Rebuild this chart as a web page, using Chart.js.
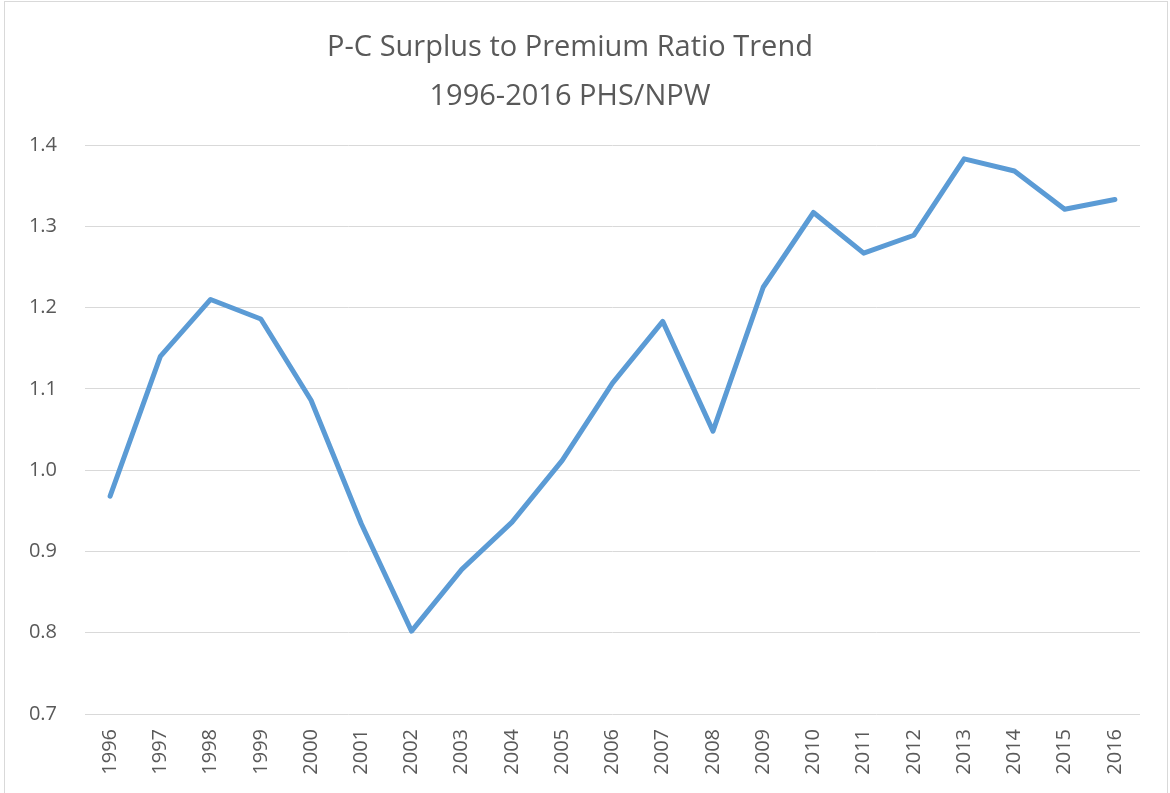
<!DOCTYPE html>
<html>
<head>
<meta charset="utf-8">
<script src="https://cdn.jsdelivr.net/npm/chart.js@4/dist/chart.umd.min.js"></script>
<style>
  html, body { margin: 0; padding: 0; background: #fff; }
  #wrap { position: relative; width: 1170px; height: 793px; }
  canvas { display: block; }
</style>
</head>
<body>
<div id="wrap"><canvas id="c" width="1170" height="793"></canvas></div>
<script>
const years = ['1996','1997','1998','1999','2000','2001','2002','2003','2004','2005','2006','2007','2008','2009','2010','2011','2012','2013','2014','2015','2016'];
const ratio = [0.968,1.140,1.210,1.186,1.086,0.934,0.802,0.878,0.936,1.012,1.107,1.183,1.048,1.225,1.317,1.267,1.289,1.383,1.368,1.321,1.333];
const titleLines = ['P-C Surplus to Premium Ratio Trend', '1996-2016 PHS/NPW'];
const yMin = 0.7, yMax = 1.4, yStep = 0.1;

const borderPlugin = {
  id: 'outerBorder',
  afterDraw(chart) {
    const ctx = chart.ctx;
    ctx.save();
    ctx.strokeStyle = '#d9d9d9';
    ctx.lineWidth = 1;
    ctx.strokeRect(4.5, 1.5, 1163, 800);
    ctx.restore();
  }
};

new Chart(document.getElementById('c'), {
  type: 'line',
  data: {
    labels: years,
    datasets: [{
      data: ratio,
      borderColor: '#5B9BD5',
      borderWidth: 5,
      pointRadius: 0,
      pointHoverRadius: 0,
      tension: 0,
      fill: false,
      borderJoinStyle: 'round',
      borderCapStyle: 'round'
    }]
  },
  options: {
    responsive: false,
    animation: false,
    devicePixelRatio: 1,
    layout: { padding: { left: 0, right: 30, top: 0, bottom: 0 } },
    plugins: {
      legend: { display: false },
      tooltip: { enabled: false },
      title: {
        display: true,
        text: titleLines,
        color: '#595959',
        font: { family: 'Open Sans', size: 29, weight: 'normal', lineHeight: 1.69 },
        padding: { top: 23, bottom: 24 }
      }
    },
    scales: {
      x: {
        offset: true,
        grid: { display: false, drawTicks: false },
        border: { display: false },
        ticks: {
          color: '#595959',
          font: { family: 'Open Sans', size: 20 },
          minRotation: 90,
          maxRotation: 90,
          padding: 15,
          autoSkip: false
        },
        afterFit(scale) { scale.height = 79; }
      },
      y: {
        min: yMin,
        max: yMax,
        grid: { color: '#d9d9d9', lineWidth: 1, drawTicks: false },
        border: { display: false },
        ticks: {
          stepSize: yStep,
          color: '#595959',
          font: { family: 'Open Sans', size: 20 },
          padding: 28,
          callback: v => Number(v).toFixed(1)
        },
        afterFit(scale) { scale.width = 85; }
      }
    }
  },
  plugins: [borderPlugin]
});
</script>
</body>
</html>
